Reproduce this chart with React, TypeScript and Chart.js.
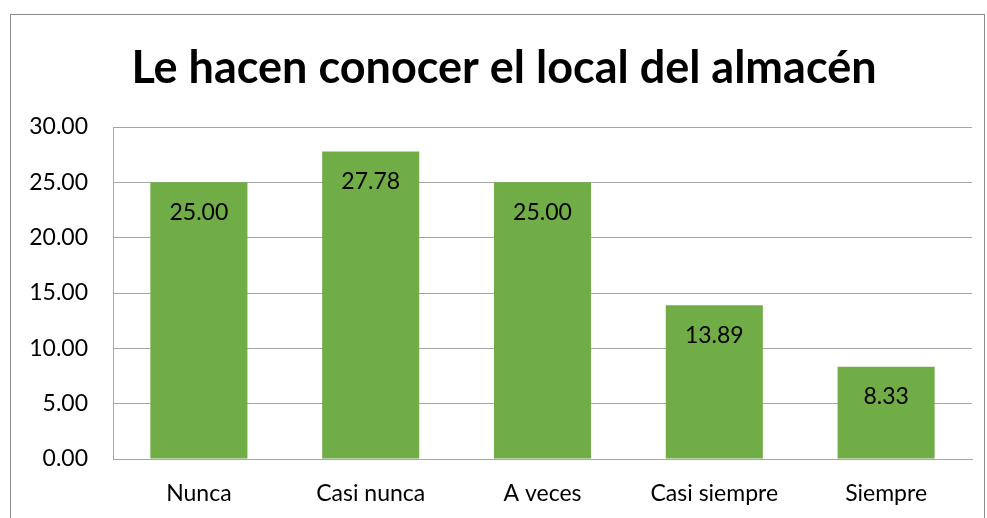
import React, { useEffect, useRef } from "react";
import { Chart, registerables } from "chart.js";

Chart.register(...registerables);

const TITLE = "Le hacen conocer el local del almacén";
const categories = ["Nunca", "Casi nunca", "A veces", "Casi siempre", "Siempre"];
const values = [25.0, 27.78, 25.0, 13.89, 8.33];
const yTicks = [0, 5, 10, 15, 20, 25, 30];

const FONT = "Lato, 'Open Sans', sans-serif";

const labelPlugin = {
  id: "barLabels",
  afterDatasetsDraw(chart: any) {
    const ctx = chart.ctx;
    const meta = chart.getDatasetMeta(0);
    ctx.save();
    ctx.font = `23px ${FONT}`;
    ctx.fillStyle = "#000";
    ctx.textAlign = "center";
    ctx.textBaseline = "middle";
    meta.data.forEach((bar: any, i: number) => {
      ctx.fillText(values[i].toFixed(2), bar.x, bar.y + 30);
    });
    ctx.restore();
  },
};

const titlePlugin = {
  id: "customTitle",
  afterDraw(chart: any) {
    const ctx = chart.ctx;
    ctx.save();
    ctx.font = `bold 45px ${FONT}`;
    ctx.fillStyle = "#000";
    ctx.textAlign = "center";
    ctx.textBaseline = "middle";
    ctx.fillText(TITLE, 504, 68);
    ctx.restore();
  },
};

export default function App() {
  const ref = useRef<HTMLCanvasElement>(null);
  useEffect(() => {
    document.body.style.margin = "0";
    const chart = new Chart(ref.current!, {
      type: "bar",
      data: {
        labels: categories,
        datasets: [
          {
            data: values,
            backgroundColor: "#70AD47",
            categoryPercentage: 1,
            barPercentage: 0.565,
          },
        ],
      },
      options: {
        animation: false,
        responsive: false,
        layout: { padding: { left: 0, right: 15, top: 127, bottom: 0 } },
        plugins: {
          legend: { display: false },
          tooltip: { enabled: false },
          title: { display: false },
        },
        scales: {
          x: {
            grid: { display: false, drawTicks: false },
            border: { color: "#a6a6a6", width: 1 },
            ticks: { color: "#000", font: { family: FONT, size: 23 }, padding: 21 },
            afterFit(scale: any) {
              scale.height = 59;
            },
          },
          y: {
            min: 0,
            max: 30,
            afterBuildTicks(scale: any) {
              scale.ticks = yTicks.map((v) => ({ value: v }));
            },
            grid: { color: "#a6a6a6", drawTicks: false },
            border: { color: "#a6a6a6", width: 1 },
            ticks: {
              color: "#000",
              font: { family: FONT, size: 23 },
              padding: 25,
              callback: (v: any) => Number(v).toFixed(2),
            },
            afterFit(scale: any) {
              scale.width = 113;
            },
          },
        },
      },
      plugins: [labelPlugin, titlePlugin],
    });
    return () => chart.destroy();
  }, []);
  return (
    <div style={{ position: "relative", width: 987, height: 518, background: "#fff", overflow: "hidden" }}>
      <div
        style={{
          position: "absolute",
          left: 10,
          top: 14,
          width: 975,
          height: 520,
          border: "1px solid #8c8c8c",
          boxSizing: "border-box",
        }}
      />
      <canvas ref={ref} width={987} height={518} style={{ position: "absolute", left: 0, top: 0 }} />
    </div>
  );
}
